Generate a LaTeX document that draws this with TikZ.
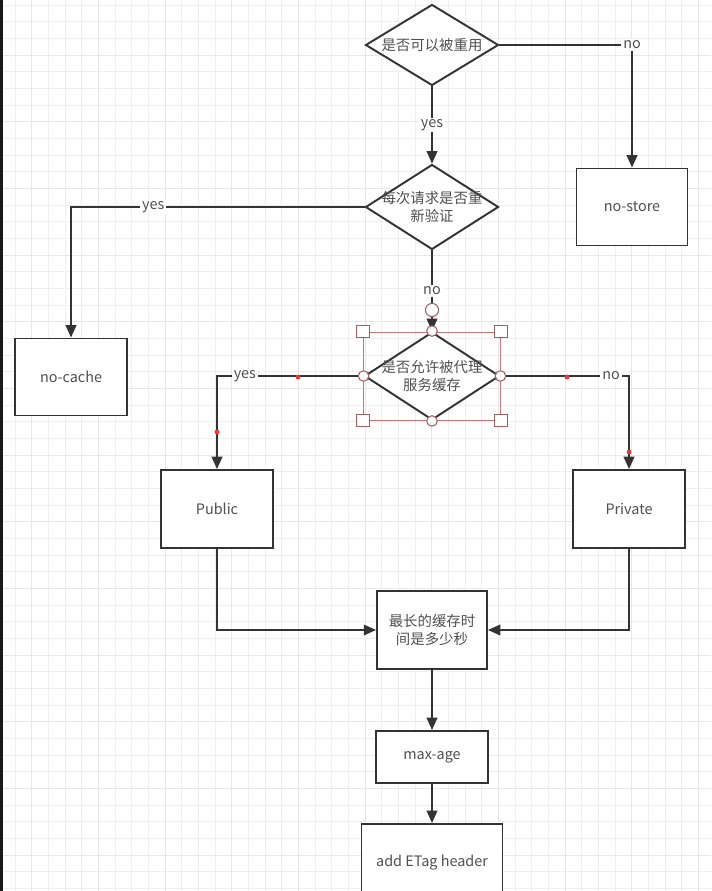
\documentclass[tikz,border=0pt]{standalone}
\usepackage{fontspec}
\setmainfont{Noto Sans CJK SC}
\usetikzlibrary{positioning,arrows.meta,shapes.geometric}
\definecolor{inkgray}{HTML}{333333}
\definecolor{txtgray}{HTML}{505050}
\definecolor{gridminor}{HTML}{EFEFEF}
\definecolor{gridmajor}{HTML}{E7E7E7}
\definecolor{selred}{HTML}{C87878}
\definecolor{dotred}{HTML}{E03C3C}

\begin{document}
\begin{tikzpicture}[
    x=0.02cm, y=-0.02cm,
    >={Triangle[length=7pt,width=6pt]},
    txt/.style={font=\fontsize{8.2}{10.3}\selectfont, text=txtgray, align=center},
    box/.style={draw=inkgray, line width=1.1pt, fill=white, txt},
    decision/.style={diamond, draw=inkgray, line width=1.1pt, fill=white, inner sep=0pt},
    dtext/.style={txt, inner sep=0pt},
    lbl/.style={txt, fill=white, inner sep=1pt},
    arr/.style={->, line width=1.1pt, draw=inkgray},
    selbox/.style={draw=selred, line width=0.5pt, inner sep=0pt},
    handle/.style={draw=selred!80!black, fill=white, line width=0.6pt, minimum size=7pt, inner sep=0pt},
    hcircle/.style={circle, draw=selred!80!black, fill=white, line width=0.6pt, minimum size=6pt, inner sep=0pt},
  ]
  % --- page and grid ---
  \useasboundingbox (0,0) rectangle (711,891);
  \clip (0,0) rectangle (711,891);
  \fill[white] (0,0) rectangle (711,891);
  \foreach \k in {0,...,42}
    \draw[gridminor, line width=0.5pt] ({15+16.667*\k},0) -- ({15+16.667*\k},891);
  \foreach \k in {0,...,53}
    \draw[gridminor, line width=0.5pt] (0,{5+16.667*\k}) -- (711,{5+16.667*\k});
  \foreach \k in {1,5,...,41}
    \draw[gridmajor, line width=0.5pt] ({15+16.667*\k},0) -- ({15+16.667*\k},891);
  \foreach \k in {3,7,...,51}
    \draw[gridmajor, line width=0.5pt] (0,{5+16.667*\k}) -- (711,{5+16.667*\k});
  \fill[black!90] (0,0) rectangle (3,891);

  % --- decisions ---
  \node[decision, minimum width=2.66cm, minimum height=1.62cm,
        label={[dtext]center:是否可以被重用}] (reuse) at (432,45) {};
  \node[decision, minimum width=2.66cm, minimum height=1.70cm,
        label={[dtext]center:每次请求是否重\\新验证}] (revalid) at (432,207) {};
  \node[decision, minimum width=2.70cm, minimum height=1.76cm,
        label={[dtext]center:是否允许被代理\\服务缓存}] (proxy) at (432,376) {};

  % --- boxes ---
  \node[box, minimum width=2.22cm, minimum height=1.54cm] (nostore) at (632,207) {no-store};
  \node[box, minimum width=2.24cm, minimum height=1.54cm] (nocache) at (71,377) {no-cache};
  \node[box, minimum width=2.24cm, minimum height=1.56cm] (public)  at (217,509) {Public};
  \node[box, minimum width=2.24cm, minimum height=1.56cm] (private) at (629,509) {Private};
  \node[box, minimum width=2.20cm, minimum height=1.56cm] (maxtime) at (432,630) {最长的缓存时\\间是多少秒};
  \node[box, minimum width=2.24cm, minimum height=1.04cm] (maxage)  at (432,757) {max-age};
  \node[box, minimum width=2.82cm, minimum height=1.56cm, anchor=north] (etag) at (432,823) {add ETag header};

  % --- connectors ---
  \draw[arr] (reuse.south) -- node[lbl] {yes} (revalid.north);
  \draw[arr] (reuse.east) -| node[lbl, pos=0.5] {no} (nostore.north);
  \draw[arr] (revalid.west) -| node[lbl, pos=0.36] {yes} (nocache.north);
  \draw[arr] (revalid.south) -- node[lbl] {no} (proxy.north);
  \draw[arr] (proxy.west) -| node[lbl, pos=0.405] {yes} (public.north);
  \draw[arr] (proxy.east) -| node[lbl, pos=0.43] {no} (private.north);
  \draw[arr] (public.south) |- (maxtime.west);
  \draw[arr] (private.south) |- (maxtime.east);
  \draw[arr] (maxtime.south) -- (maxage.north);
  \draw[arr] (maxage.south) -- (etag.north);

  % --- selection handles round the proxy decision ---
  \node[selbox, minimum width=2.74cm, minimum height=1.76cm] (sel) at (proxy.center) {};
  \foreach \a/\n in {north west/hnw, north east/hne, south west/hsw, south east/hse}
    \node[handle] (\n) at (sel.\a) {};
  \foreach \a/\n in {north/cn, south/cs, west/cw, east/ce}
    \node[hcircle] (\n) at (proxy.\a) {};
  \node[hcircle, minimum size=7.5pt] (hover) at (432,310) {};
  \foreach \p in {(298,377), (217,432), (567,377), (629,452)}
    \fill[dotred] \p circle (1.4pt);
\end{tikzpicture}
\end{document}
